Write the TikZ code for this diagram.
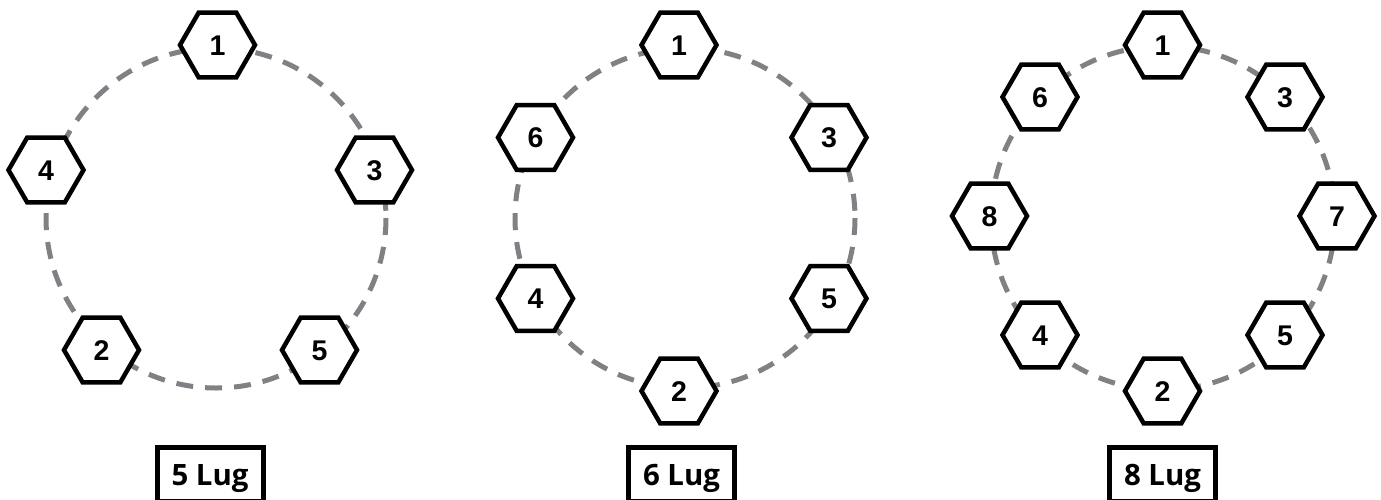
\documentclass[tikz,border=0pt]{standalone}
\usepackage{fontspec}
\usetikzlibrary{shapes.geometric}
\newfontfamily\hexfont{Liberation Sans}
\newfontfamily\labfont{Open Sans}
\definecolor{ringgray}{RGB}{128,129,133}
\begin{document}
\begin{tikzpicture}[x=1pt,y=-1pt,
  lug/.style={regular polygon, regular polygon sides=6, draw, line width=4.5pt,
    fill=white, inner sep=0pt, outer sep=0pt, minimum size=75pt,
    font=\hexfont\bfseries\fontsize{28.5}{30}\selectfont,
    text height=20.5pt, text depth=0pt},
  ring/.style={draw=ringgray, line width=5pt, dash pattern=on 17pt off 12pt},
  titlebox/.style={draw, line width=5pt, inner sep=0pt, outer sep=0pt,
    minimum width=106pt, minimum height=54pt,
    font=\labfont\bfseries\fontsize{29.4}{31}\selectfont,
    text height=21pt, text depth=0pt}]
\useasboundingbox (0,0) rectangle (1381,499);
% ring centres
\coordinate (cA) at (216,218);
\coordinate (cB) at (685,218);
\coordinate (cC) at (1163,218);
\draw[ring] (cA) circle[radius=170];
\draw[ring] (cB) circle[radius=170];
\draw[ring] (cC) circle[radius=172];
% 5 lug
\node[lug] (a1) at (217.5,45) {1};
\node[lug] (a4) at (46,170) {4};
\node[lug] (a3) at (374.5,170) {3};
\node[lug] (a2) at (101.5,350) {2};
\node[lug] (a5) at (319.5,350) {5};
% 6 lug
\node[lug] (b1) at (679,45) {1};
\node[lug] (b6) at (535.5,137.5) {6};
\node[lug] (b3) at (829,137.5) {3};
\node[lug] (b4) at (535.5,298.5) {4};
\node[lug] (b5) at (829,298.5) {5};
\node[lug] (b2) at (679,391) {2};
% 8 lug
\node[lug] (c1) at (1162.5,45) {1};
\node[lug] (c6) at (1040,97) {6};
\node[lug] (c3) at (1285,97) {3};
\node[lug] (c8) at (989.5,216) {8};
\node[lug] (c7) at (1337,216) {7};
\node[lug] (c4) at (1040,335) {4};
\node[lug] (c5) at (1285,335) {5};
\node[lug] (c2) at (1162.5,391) {2};
% titles
\node[titlebox] (tA) at (210,474.5) {5 Lug};
\node[titlebox] (tB) at (681.5,474.5) {6 Lug};
\node[titlebox] (tC) at (1162.5,474.5) {8 Lug};
\end{tikzpicture}
\end{document}
